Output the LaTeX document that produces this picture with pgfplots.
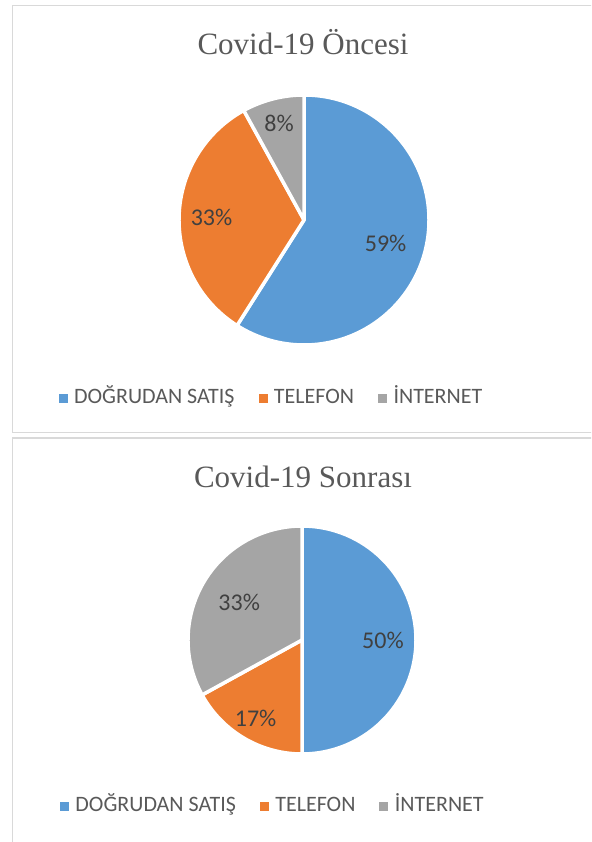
\documentclass[border=0pt]{standalone}
\usepackage{pgfplots}
\pgfplotsset{compat=1.18}
\usepackage{pgfplotstable}
\usepackage{fontspec}
\setmainfont{Liberation Serif}
\newfontfamily\calibri{Carlito}

\definecolor{slice0}{HTML}{5B9BD5}
\definecolor{slice1}{HTML}{ED7D31}
\definecolor{slice2}{HTML}{A5A5A5}
\definecolor{titc}{HTML}{595959}
\definecolor{legc}{HTML}{595959}
\definecolor{pctc}{HTML}{404040}
\definecolor{framec}{HTML}{D9D9D9}

\newcommand\titlefont{\fontsize{31}{31}\selectfont}
\newcommand\legfont{\calibri\fontsize{22}{22}\selectfont}
\newcommand\pctfont{\calibri\fontsize{24}{24}\selectfont}

% share in percent, lab = label distance as fraction of radius
\pgfplotstableread{
share lab
59 0.68
33 0.74
8  0.80
}\before
\pgfplotstableread{
share lab
50 0.71
17 0.80
33 0.64
}\after

% slices clockwise from 12 o'clock, read from table #1, radius #2
\newcommand\drawpie[2]{%
  \pgfplotstablegetrowsof{#1}%
  \pgfmathtruncatemacro\lastrow{\pgfplotsretval-1}%
  \def\acc{90}%
  \pgfplotsforeachungrouped \i in {0,...,\lastrow}{%
    \pgfplotstablegetelem{\i}{share}\of{#1}\let\val\pgfplotsretval
    \pgfplotstablegetelem{\i}{lab}\of{#1}\let\labr\pgfplotsretval
    \pgfmathsetmacro\endang{\acc-3.6*\val}%
    \pgfmathsetmacro\midang{(\acc+\endang)/2}%
    \pgfmathsetmacro\sx{#2*cos(\acc)}%
    \pgfmathsetmacro\sy{#2*sin(\acc)}%
    \pgfmathsetmacro\lx{\labr*#2*cos(\midang)}%
    \pgfmathsetmacro\ly{\labr*#2*sin(\midang)}%
    \edef\temp{%
      \noexpand\fill[slice\i, draw=white, line width=3.5pt, line join=round]
        (axis cs:0,0) -- (axis cs:\sx,\sy) arc[start angle=\acc, end angle=\endang, radius=#2] -- cycle;
      \noexpand\node[font=\noexpand\pctfont, text=pctc] at (axis cs:\lx,\ly) {\val\noexpand\%};}%
    \temp
    \let\acc\endang
  }%
}

\pgfplotsset{
  piechart/.style={
    anchor=origin, x=1pt, y=1pt,
    xmin=-130, xmax=130, ymin=-130, ymax=130,
    hide axis, clip=false,
    legend columns=3,
    legend image code/.code={\fill[##1] (0pt,-4pt) rectangle (8pt,4pt); \path (13pt,0pt);},
    legend style={draw=none, fill=none, font=\legfont, text=legc,
      nodes={text height=14pt, text depth=4pt},
      /tikz/every even column/.append style={column sep=22pt}},
  },
}

\begin{document}
\begin{tikzpicture}[x=1pt,y=1pt]
\useasboundingbox (0,0) rectangle (591,842);
\begin{scope}
  \clip (0,0) rectangle (591,842);
  \draw[framec, line width=1.8pt] (12.5,836.5) rectangle (640,409.5);
  \draw[framec, line width=1.8pt] (12.5,404) rectangle (640,-20);
\end{scope}

\node[anchor=base, font=\titlefont, text=titc] at (303,787) {Covid-19 Öncesi};
\node[anchor=base, font=\titlefont, text=titc] at (303,354) {Covid-19 Sonrası};

\begin{axis}[piechart, at={(304,622)},
  legend style={at={(axis description cs:0.375,-0.185)}, anchor=center}]
  \drawpie{\before}{125}
  \addlegendimage{slice0}\addlegendentry{DOĞRUDAN SATIŞ}
  \addlegendimage{slice1}\addlegendentry{TELEFON}
  \addlegendimage{slice2}\addlegendentry{İNTERNET}
\end{axis}

\begin{axis}[piechart, at={(302,202)},
  legend style={at={(axis description cs:0.388,-0.139)}, anchor=center}]
  \drawpie{\after}{114}
  \addlegendimage{slice0}\addlegendentry{DOĞRUDAN SATIŞ}
  \addlegendimage{slice1}\addlegendentry{TELEFON}
  \addlegendimage{slice2}\addlegendentry{İNTERNET}
\end{axis}
\end{tikzpicture}
\end{document}
